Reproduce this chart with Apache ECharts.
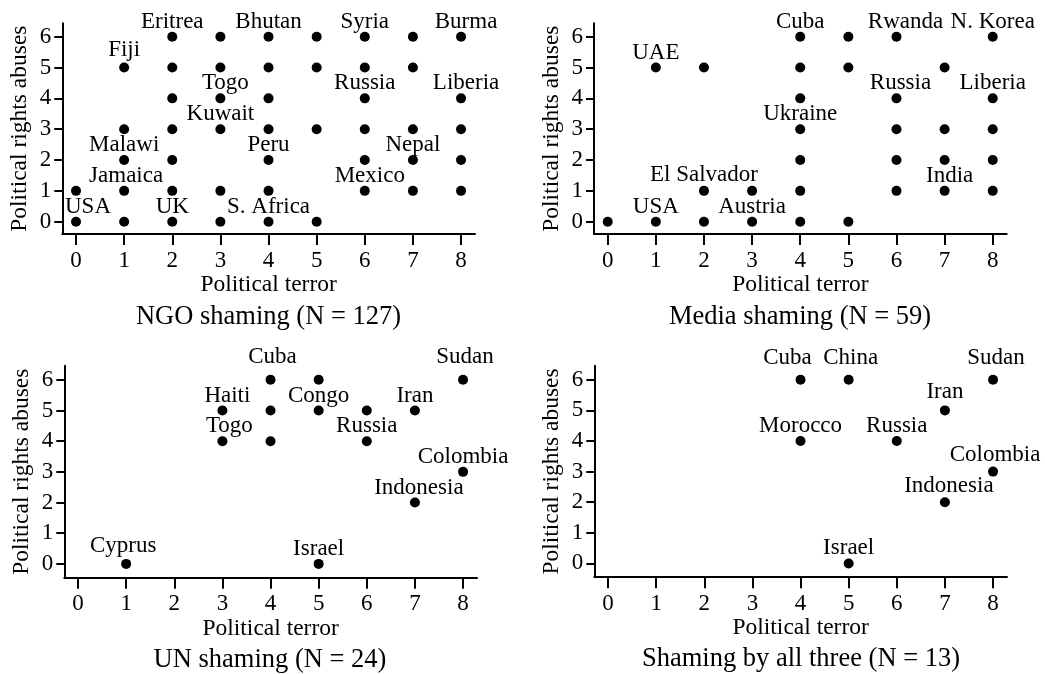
<!DOCTYPE html>
<html><head><meta charset="utf-8">
<script src="https://cdn.jsdelivr.net/npm/echarts@6/dist/echarts.min.js"></script>
<style>html,body{margin:0;padding:0;background:#fff}#c{width:1045px;height:674px}</style>
</head><body><div id="c"></div>
<script>
// ---------- data ----------
const xTicks = [0, 1, 2, 3, 4, 5, 6, 7, 8];
const yTicks = [0, 1, 2, 3, 4, 5, 6];
const xName = 'Political terror';
const yName = 'Political rights abuses';
const panelTitles = ['NGO shaming (N = 127)', 'Media shaming (N = 59)', 'UN shaming (N = 24)', 'Shaming by all three (N = 13)'];

const ngoPoints = [
  [0,0],[0,1],
  [1,0],[1,1],[1,2],[1,3],[1,5],
  [2,0],[2,1],[2,2],[2,3],[2,4],[2,5],[2,6],
  [3,0],[3,1],[3,3],[3,4],[3,5],[3,6],
  [4,0],[4,1],[4,2],[4,3],[4,4],[4,5],[4,6],
  [5,0],[5,3],[5,5],[5,6],
  [6,1],[6,2],[6,3],[6,4],[6,5],[6,6],
  [7,1],[7,2],[7,3],[7,5],[7,6],
  [8,1],[8,2],[8,3],[8,4],[8,6]
];
const ngoLabels = [
  ['Eritrea',2,6],['Bhutan',4,6],['Syria',6,6],['Burma',8,6],['Fiji',1,5],
  ['Togo',3,4],['Russia',6,4],['Liberia',8,4],['Kuwait',3,3],['Malawi',1,2],
  ['Peru',4,2],['Nepal',7,2],['Jamaica',1,1],['Mexico',6,1],['USA',0,0],
  ['UK',2,0],['S. Africa',4,0]
];

const mediaPoints = [
  [0,0],
  [1,0],[1,5],
  [2,0],[2,1],[2,5],
  [3,0],[3,1],
  [4,0],[4,1],[4,2],[4,3],[4,4],[4,5],[4,6],
  [5,0],[5,5],[5,6],
  [6,1],[6,2],[6,3],[6,4],[6,6],
  [7,1],[7,2],[7,3],[7,5],
  [8,1],[8,2],[8,3],[8,4],[8,6]
];
const mediaLabels = [
  ['Cuba',4,6],['Rwanda',6,6],['N. Korea',8,6],['UAE',1,5],['Russia',6,4],
  ['Liberia',8,4],['Ukraine',4,3],['El Salvador',2,1],['India',7,1],
  ['USA',1,0],['Austria',3,0]
];

const unPoints = [
  [1,0],[3,4],[3,5],[4,4],[4,5],[4,6],[5,0],[5,5],[5,6],
  [6,4],[6,5],[7,2],[7,5],[8,3],[8,6]
];
const unLabels = [
  ['Cuba',4,6],['Sudan',8,6],['Haiti',3,5],['Congo',5,5],['Iran',7,5],
  ['Togo',3,4],['Russia',6,4],['Colombia',8,3],['Indonesia',7,2],
  ['Cyprus',1,0],['Israel',5,0]
];

const allPoints = [
  [4,4],[4,6],[5,0],[5,6],[6,4],[7,2],[7,5],[8,3],[8,6]
];
const allLabels = [
  ['Cuba',4,6],['China',5,6],['Sudan',8,6],['Iran',7,5],['Morocco',4,4],
  ['Russia',6,4],['Colombia',8,3],['Indonesia',7,2],['Israel',5,0]
];

// ---------- layout / style ----------
const FONT = 'Liberation Serif';
const panels = [
  {points: ngoPoints, labels: ngoLabels,
   grid: {left: 62.3, top: 23.3, width: 412.7, height: 210.7}, y: [-0.4, 6.435],
   title: [268.5, 317],
   nudge: {'USA':[12,0], 'Fiji':[0,-3], 'Burma':[5,0], 'Liberia':[5,0], 'Togo':[5,0], 'Mexico':[5,0], 'Jamaica':[2,0]}},
  {points: mediaPoints, labels: mediaLabels,
   grid: {left: 594, top: 23.3, width: 412.7, height: 210.7}, y: [-0.4, 6.435],
   title: [800, 317],
   nudge: {'Rwanda':[9,0], 'Russia':[4,0], 'India':[5,0], 'El Salvador':[0,-1]}},
  {points: unPoints, labels: unLabels,
   grid: {left: 64.3, top: 365.7, width: 412.7, height: 212}, y: [-0.45, 6.46],
   title: [270, 660],
   nudge: {'Haiti':[5,0], 'Togo':[7,0], 'Indonesia':[4,0], 'Cyprus':[-3,-3], 'Cuba':[2,-8], 'Sudan':[2,-8]}},
  {points: allPoints, labels: allLabels,
   grid: {left: 594.3, top: 365.7, width: 412.7, height: 211.5}, y: [-0.45, 6.46],
   title: [801, 659],
   nudge: {'Cuba':[-13,-7], 'China':[2,-7], 'Sudan':[3,-7], 'Iran':[0,-3], 'Colombia':[2,-2], 'Indonesia':[4,-1]}}
];

const axisLineStyle = {color: '#000', width: 2, opacity: 1};
const txt = (size) => ({fontFamily: FONT, fontSize: size, color: '#000', fontWeight: 'normal'});
const option = {
  backgroundColor: '#fff',
  animation: false,
  textStyle: {fontFamily: FONT, color: '#000'},
  grid: [], xAxis: [], yAxis: [], series: [], graphic: []
};

panels.forEach((p, i) => {
  option.grid.push(Object.assign({outerBoundsMode: 'none', containLabel: false}, p.grid));
  option.xAxis.push({
    type: 'value', gridIndex: i, min: -0.285, max: 8.29,
    name: xName, nameLocation: 'middle', nameGap: 39,
    nameTextStyle: txt(23.5),
    axisLine: {show: true, onZero: false, lineStyle: axisLineStyle},
    axisTick: {show: true, length: 11, lineStyle: axisLineStyle, customValues: xTicks},
    axisLabel: Object.assign({show: true, margin: 15, customValues: xTicks}, txt(23)),
    splitLine: {show: false}
  });
  option.yAxis.push({
    type: 'value', gridIndex: i, min: p.y[0], max: p.y[1],
    name: yName, nameLocation: 'middle', nameGap: 30, nameRotate: 90,
    nameTextStyle: txt(23.5),
    axisLine: {show: true, onZero: false, lineStyle: axisLineStyle},
    axisTick: {show: true, length: 8, lineStyle: axisLineStyle, customValues: yTicks},
    axisLabel: Object.assign({show: true, margin: 11, customValues: yTicks}, txt(23)),
    splitLine: {show: false}
  });
  const shifts = [];
  const data = p.points.map(pt => {
    const lab = p.labels.find(l => l[1] === pt[0] && l[2] === pt[1]);
    const item = {value: pt};
    if (lab) {
      item.name = lab[0];
      item.label = {show: true, formatter: lab[0]};
      const nd = p.nudge[lab[0]] || [0, 0];
      shifts.push([nd[0], nd[1] + 1.5]);
    } else {
      shifts.push([0, 0]);
    }
    return item;
  });
  option.series.push({
    type: 'scatter', xAxisIndex: i, yAxisIndex: i, clip: false,
    symbol: 'circle', symbolSize: 10,
    itemStyle: {color: '#000', opacity: 1},
    label: Object.assign({show: false, position: 'top', distance: 0}, txt(23)),
    labelLayout: function (params) {
      const s = shifts[params.dataIndex] || [0, 0];
      return {dx: s[0], dy: s[1], hideOverlap: false};
    },
    emphasis: {disabled: true},
    data: data
  });
  option.graphic.push({
    type: 'text', x: p.title[0], y: p.title[1],
    style: {text: panelTitles[i], fontFamily: FONT, fontSize: 26.5, fill: '#000',
            textAlign: 'center', textVerticalAlign: 'middle', align: 'center', verticalAlign: 'middle'}
  });
});

const chart = echarts.init(document.getElementById('c'), null, {renderer: 'canvas'});
chart.setOption(option);
</script>
</body></html>
